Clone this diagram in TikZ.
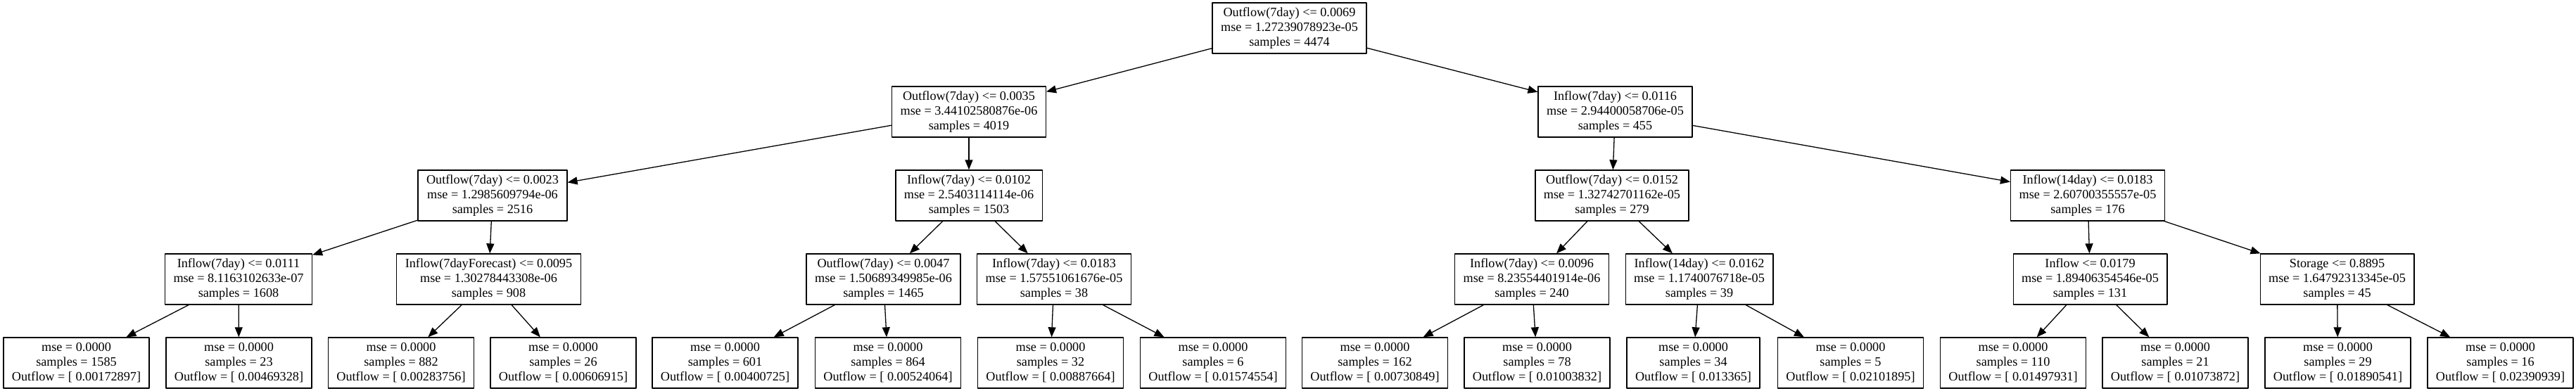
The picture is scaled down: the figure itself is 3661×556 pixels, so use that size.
\documentclass[tikz,border=0pt]{standalone}
\usepackage{fontspec}
\setmainfont{Liberation Serif}
\usetikzlibrary{arrows.meta}
\tikzset{
	split/.style={draw,line width=1.3pt,minimum height=72pt,inner xsep=12pt,align=center,font=\fontsize{18.2pt}{21pt}\selectfont},
	leaf/.style={split},
}
\begin{document}
\begin{tikzpicture}[>={Stealth[inset=0pt,length=14pt,width=11pt]},line join=round,x=1pt,y=-1pt]
	\useasboundingbox (0,0) rectangle (3661,556);
	% splits
	\node[split] (n) at (1832.5,40) {Outflow(7day) <= 0.0069\\mse = 1.27239078923e-05\\samples = 4474};
	\node[split] (nL) at (1377,159) {Outflow(7day) <= 0.0035\\mse = 3.44102580876e-06\\samples = 4019};
	\node[split] (nR) at (2295.5,159) {Inflow(7day) <= 0.0116\\mse = 2.94400058706e-05\\samples = 455};
	\node[split] (nLL) at (700,278) {Outflow(7day) <= 0.0023\\mse = 1.2985609794e-06\\samples = 2516};
	\node[split] (nLR) at (1377,278) {Inflow(7day) <= 0.0102\\mse = 2.5403114114e-06\\samples = 1503};
	\node[split] (nRL) at (2291,278) {Outflow(7day) <= 0.0152\\mse = 1.32742701162e-05\\samples = 279};
	\node[split] (nRR) at (2967,278) {Inflow(14day) <= 0.0183\\mse = 2.60700355557e-05\\samples = 176};
	\node[split] (nLLL) at (339,397) {Inflow(7day) <= 0.0111\\mse = 8.1163102633e-07\\samples = 1608};
	\node[split] (nLLR) at (694.5,397) {Inflow(7dayForecast) <= 0.0095\\mse = 1.30278443308e-06\\samples = 908};
	\node[split] (nLRL) at (1255.5,397) {Outflow(7day) <= 0.0047\\mse = 1.50689349985e-06\\samples = 1465};
	\node[split] (nLRR) at (1498,397) {Inflow(7day) <= 0.0183\\mse = 1.57551061676e-05\\samples = 38};
	\node[split] (nRLL) at (2177,397) {Inflow(7day) <= 0.0096\\mse = 8.23554401914e-06\\samples = 240};
	\node[split] (nRLR) at (2415,397) {Inflow(14day) <= 0.0162\\mse = 1.1740076718e-05\\samples = 39};
	\node[split] (nRRL) at (2970.5,397) {Inflow <= 0.0179\\mse = 1.89406354546e-05\\samples = 131};
	\node[split] (nRRR) at (3321.5,397) {Storage <= 0.8895\\mse = 1.64792313345e-05\\samples = 45};
	% leaves
	\foreach \x/\s/\v [count=\i] in {108.5/1585/0.00172897,339.5/23/0.00469328,570/882/0.00283756,800.5/26/0.00606915,
		1030.5/601/0.00400725,1262/864/0.00524064,1493/32/0.00887664,1724/6/0.01574554,
		1954/162/0.00730849,2184.5/78/0.01003832,2406.5/34/0.013365,2630/5/0.02101895,
		2861/110/0.01497931,3091.5/21/0.01073872,3322.5/29/0.01890541,3553.5/16/0.02390939}{
		\node[leaf] (l\i) at (\x,516) {mse = 0.0000\\samples = \s\\Outflow = [ \v]};
	}
	% edges
	\foreach \p/\c in {n/nL,n/nR,nL/nLL,nL/nLR,nR/nRL,nR/nRR,
		nLL/nLLL,nLL/nLLR,nLR/nLRL,nLR/nLRR,nRL/nRLL,nRL/nRLR,nRR/nRRL,nRR/nRRR,
		nLLL/l1,nLLL/l2,nLLR/l3,nLLR/l4,nLRL/l5,nLRL/l6,nLRR/l7,nLRR/l8,
		nRLL/l9,nRLL/l10,nRLR/l11,nRLR/l12,nRRL/l13,nRRL/l14,nRRR/l15,nRRR/l16}{
		\draw[->,line width=1.3pt] (\p) -- (\c);
	}
\end{tikzpicture}
\end{document}
